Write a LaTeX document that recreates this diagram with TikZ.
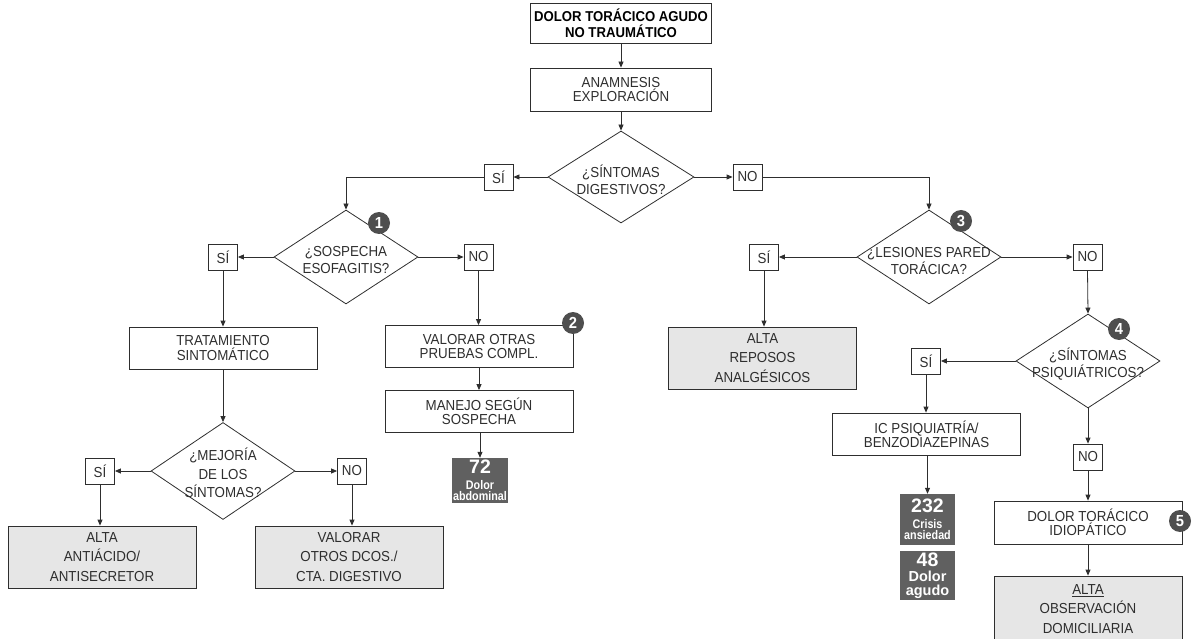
\documentclass[tikz,border=0pt]{standalone}
\usepackage{fontspec}
\setmainfont[FakeStretch=0.92]{Liberation Sans}
\newfontfamily\condsans[FakeStretch=0.86]{Liberation Sans}
\newfontfamily\numsans{Liberation Sans}
\usetikzlibrary{arrows.meta,shapes.geometric}
\definecolor{ink}{HTML}{2E2E2E}
\definecolor{lightbox}{HTML}{E6E6E6}
\definecolor{darkbox}{HTML}{606060}
\definecolor{numcirc}{HTML}{4E4E4E}
\tikzset{
  ln/.style={draw=ink, line width=0.8pt},
  arr/.style={ln, -{Triangle[length=6pt,width=5pt]}},
  box/.style={draw=ink, line width=0.8pt, minimum width=188pt, minimum height=42pt, inner sep=0pt, align=center, text=ink, font=\fontsize{14.5}{14.3}\selectfont},
  titlebox/.style={box, minimum width=181pt, font=\bfseries\fontsize{14.3}{16}\selectfont, text=black},
  gbox/.style={box, fill=lightbox, minimum height=62pt, font=\fontsize{14.5}{19.5}\selectfont},
  yn/.style={draw=ink, line width=0.8pt, minimum width=29pt, minimum height=26pt, inner sep=0pt, text=ink, font=\fontsize{14.5}{14}\selectfont},
  dia/.style={diamond, draw=ink, line width=0.8pt, minimum width=144pt, minimum height=94pt, inner sep=0pt},
  dtext/.style={align=center, inner sep=0pt, text=ink, font=\fontsize{14.5}{16.7}\selectfont},
  num/.style={circle, fill=numcirc, text=white, minimum size=22pt, inner sep=0pt, font=\bfseries\fontsize{16}{16}\selectfont},
  dark/.style={fill=darkbox, text=white, minimum width=55pt, inner sep=1pt, align=center},
}
\newcommand{\bignum}[1]{{\numsans\bfseries\fontsize{19.5}{19}\selectfont #1}}
\begin{document}
\begin{tikzpicture}[x=1pt,y=-1pt]
\useasboundingbox (0,0) rectangle (1197,639);
% top
\node[titlebox, minimum height=40pt] (title) at (621,23) {DOLOR TORÁCICO AGUDO\\NO TRAUMÁTICO};
\node[box, minimum width=181pt, minimum height=43pt] (anam) at (621,89.5) {ANAMNESIS\\EXPLORACIÓN};
\node[dia, minimum width=146pt, minimum height=92pt] (d1) at (621,177) {};
\node[dtext] (d1t) at (621,180) {¿SÍNTOMAS\\DIGESTIVOS?};
\node[yn] (s1) at (498.5,177) {SÍ};
\node[yn] (n1) at (747.5,177) {NO};
% left branch
\node[dia] (d2) at (346,257) {};
\node[dtext] (d2t) at (346,260) {¿SOSPECHA\\ESOFAGITIS?};
\node[num] (c1) at (379,223) {1};
\node[yn] (s2) at (223,257) {SÍ};
\node[yn] (n2) at (478.5,257) {NO};
\node[box] (trat) at (223,348) {TRATAMIENTO\\SINTOMÁTICO};
\node[box] (valor) at (479,346.5) {VALORAR OTRAS\\PRUEBAS COMPL.};
\node[num] (c2) at (573,323) {2};
\node[box] (manejo) at (479,411.5) {MANEJO SEGÚN\\SOSPECHA};
\node[dark, minimum height=45pt, font=\condsans\bfseries\fontsize{12.5}{11.5}\selectfont] (b72) at (480,480.5) {\bignum{72}\\[4pt]Dolor\\abdominal};
\node[dia, minimum height=97pt] (d5) at (223,471) {};
\node[dtext, font=\fontsize{14.5}{18.3}\selectfont] (d5t) at (223,473) {¿MEJORÍA\\DE LOS\\SÍNTOMAS?};
\node[yn] (s5) at (100,471) {SÍ};
\node[yn] (n5) at (352,471) {NO};
\node[gbox] (alta1) at (102,557) {ALTA\\ANTIÁCIDO/\\ANTISECRETOR};
\node[gbox] (valotros) at (349,557) {VALORAR\\OTROS DCOS./\\CTA. DIGESTIVO};
% right branch
\node[dia] (d3) at (929,257) {};
\node[dtext] (d3t) at (929,261) {¿LESIONES PARED\\TORÁCICA?};
\node[num] (c3) at (961,221) {3};
\node[yn] (s3) at (764,257) {SÍ};
\node[yn] (n3) at (1087.5,257) {NO};
\node[gbox] (altarep) at (762.5,358) {ALTA\\REPOSOS\\ANALGÉSICOS};
\node[dia] (d4) at (1088,361) {};
\node[dtext] (d4t) at (1088,364) {¿SÍNTOMAS\\PSIQUIÁTRICOS?};
\node[num] (c4) at (1119,329) {4};
\node[yn] (s4) at (926,361) {SÍ};
\node[box] (ic) at (926.5,434) {IC PSIQUIATRÍA/\\BENZODIAZEPINAS};
\node[dark, minimum height=51pt, font=\condsans\bfseries\fontsize{12.5}{11.5}\selectfont] (b232) at (927.5,519.5) {\bignum{232}\\[4pt]Crisis\\ansiedad};
\node[dark, minimum height=49pt, font=\numsans\bfseries\fontsize{14.5}{13.5}\selectfont] (b48) at (927.5,575.5) {\bignum{48}\\[2pt]Dolor\\agudo};
\node[yn] (n4) at (1088,457) {NO};
\node[box, minimum height=43pt] (idio) at (1088,522.5) {DOLOR TORÁCICO\\IDIOPÁTICO};
\node[num] (c5) at (1180,521) {5};
\node[gbox, minimum height=66pt] (altaobs) at (1088,609) {\underline{ALTA}\\OBSERVACIÓN\\DOMICILIARIA};
% connectors
\draw[arr] (title) -- (anam);
\draw[arr] (anam) -- (d1.north);
\draw[arr] (d1.west) -- (s1.east);
\draw[arr] (d1.east) -- (n1.west);
\draw[arr] (s1.west) -| (d2.north);
\draw[arr] (n1.east) -| (d3.north);
\draw[arr] (d2.west) -- (s2.east);
\draw[arr] (d2.east) -- (n2.west);
\draw[arr] (s2.south) -- (trat.north);
\draw[arr] (n2.south) -- (valor.north -| n2.south);
\draw[arr] (valor.south -| manejo.north) -- (manejo.north);
\draw[arr] (manejo.south -| b72.north) -- (b72.north);
\draw[arr] (trat.south) -- (d5.north);
\draw[arr] (d5.west) -- (s5.east);
\draw[arr] (d5.east) -- (n5.west);
\draw[arr] (s5.south) -- (s5.south |- alta1.north);
\draw[arr] (n5.south) -- (n5.south |- valotros.north);
\draw[arr] (d3.west) -- (s3.east);
\draw[arr] (d3.east) -- (n3.west);
\draw[arr] (s3.south) -- (s3.south |- altarep.north);
\draw[arr] (n3.south) -- (d4.north);
\draw[arr] (d4.west) -- (s4.east);
\draw[arr] (d4.south) -- (n4.north);
\draw[arr] (s4.south) -- (s4.south |- ic.north);
\draw[arr] (ic.south -| b232.north) -- (b232.north);
\draw[arr] (n4.south) -- (idio.north -| n4.south);
\draw[arr] (idio.south) -- (altaobs.north);
\end{tikzpicture}
\end{document}
